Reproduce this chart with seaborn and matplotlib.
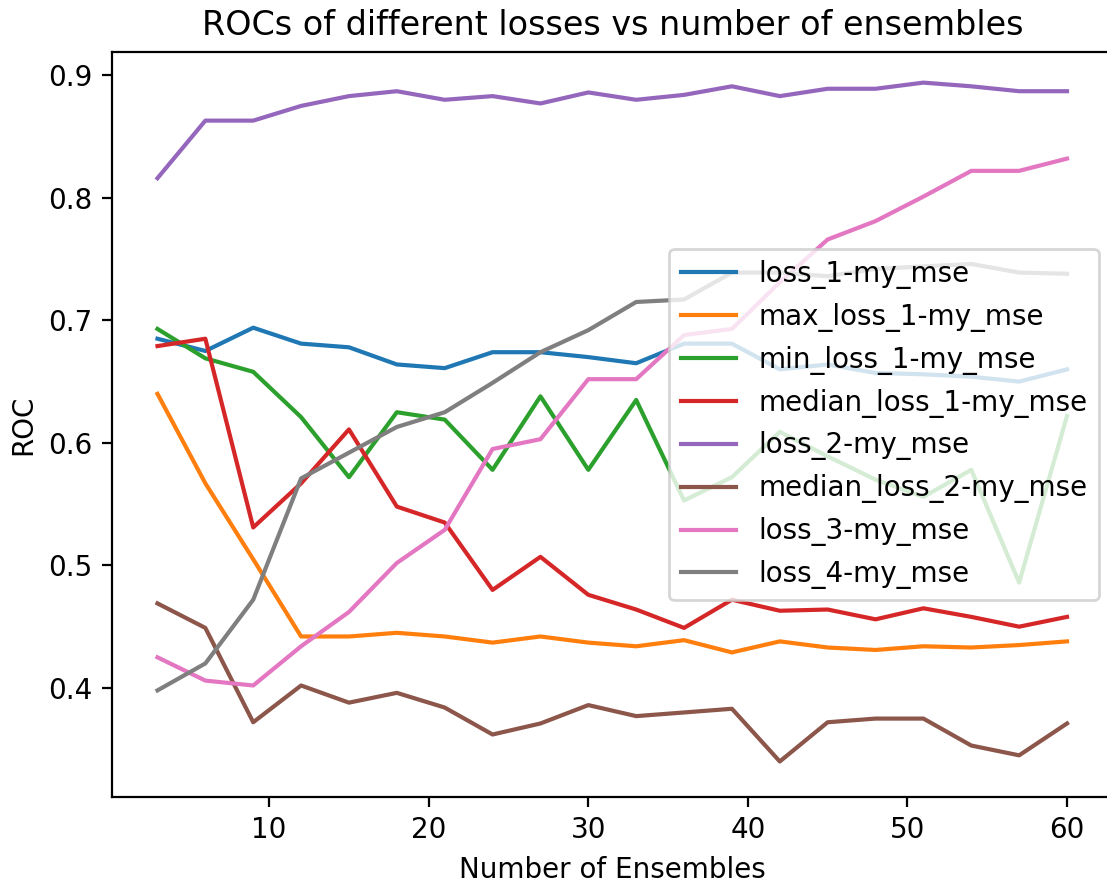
import matplotlib
matplotlib.use("Agg")
import matplotlib.pyplot as plt
import seaborn as sns
import pandas as pd

n_ensembles = [3, 6, 9, 12, 15, 18, 21, 24, 27, 30, 33, 36, 39, 42, 45, 48, 51, 54, 57, 60]

loss_1 = [0.685, 0.675, 0.694, 0.681, 0.678, 0.664, 0.661, 0.674, 0.674, 0.670,
          0.665, 0.681, 0.681, 0.660, 0.664, 0.657, 0.656, 0.654, 0.650, 0.660]
max_loss_1 = [0.640, 0.567, 0.505, 0.442, 0.442, 0.445, 0.442, 0.437, 0.442, 0.437,
              0.434, 0.439, 0.429, 0.438, 0.433, 0.431, 0.434, 0.433, 0.435, 0.438]
min_loss_1 = [0.693, 0.669, 0.658, 0.621, 0.572, 0.625, 0.619, 0.578, 0.638, 0.578,
              0.635, 0.553, 0.572, 0.609, 0.589, 0.570, 0.556, 0.578, 0.486, 0.622]
median_loss_1 = [0.679, 0.685, 0.531, 0.567, 0.611, 0.548, 0.535, 0.480, 0.507, 0.476,
                 0.464, 0.449, 0.472, 0.463, 0.464, 0.456, 0.465, 0.458, 0.450, 0.458]
loss_2 = [0.816, 0.863, 0.863, 0.875, 0.883, 0.887, 0.880, 0.883, 0.877, 0.886,
          0.880, 0.884, 0.891, 0.883, 0.889, 0.889, 0.894, 0.891, 0.887, 0.887]
median_loss_2 = [0.469, 0.449, 0.372, 0.402, 0.388, 0.396, 0.384, 0.362, 0.371, 0.386,
                 0.377, 0.380, 0.383, 0.340, 0.372, 0.375, 0.375, 0.353, 0.345, 0.371]
loss_3 = [0.425, 0.406, 0.402, 0.434, 0.462, 0.502, 0.529, 0.595, 0.603, 0.652,
          0.652, 0.688, 0.693, 0.731, 0.766, 0.781, 0.801, 0.822, 0.822, 0.832]
loss_4 = [0.398, 0.420, 0.472, 0.571, 0.592, 0.613, 0.625, 0.649, 0.674, 0.692,
          0.715, 0.717, 0.739, 0.739, 0.736, 0.742, 0.744, 0.746, 0.739, 0.738]

series_names = ["loss_1-my_mse", "max_loss_1-my_mse", "min_loss_1-my_mse",
                "median_loss_1-my_mse", "loss_2-my_mse", "median_loss_2-my_mse",
                "loss_3-my_mse", "loss_4-my_mse"]
series_values = [loss_1, max_loss_1, min_loss_1, median_loss_1,
                 loss_2, median_loss_2, loss_3, loss_4]

rows = []
for name, vals in zip(series_names, series_values):
    for x, y in zip(n_ensembles, vals):
        rows.append({"Number of Ensembles": x, "ROC": y, "series": name})
df = pd.DataFrame(rows)

fig = plt.figure(figsize=(1107 / 200, 883 / 200), dpi=200)
ax = fig.add_axes([112 / 1107, (883 - 797) / 883, 1000.5 / 1107, 745 / 883])

sns.lineplot(data=df, x="Number of Ensembles", y="ROC", hue="series",
             hue_order=series_names, palette="tab10", linewidth=1.5, ax=ax)

ax.set_ylim(0.311, 0.919)
ax.set_xlim(0.15, 62.85)
ax.spines["right"].set_visible(False)
ax.set_title("ROCs of different losses vs number of ensembles", fontsize=12)
ax.set_xlabel("Number of Ensembles")
ax.set_ylabel("ROC")
sns.move_legend(ax, "center right", title=None)

fig.savefig("out.png", dpi=200)
